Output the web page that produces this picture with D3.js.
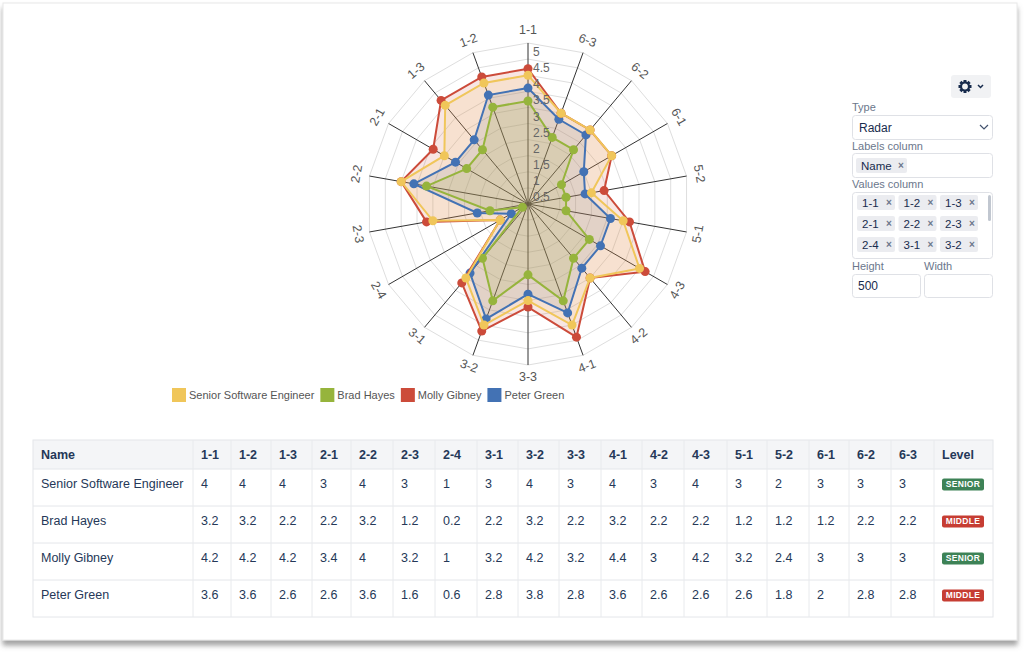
<!DOCTYPE html>
<html>
<head>
<meta charset="utf-8">
<script src="https://cdn.jsdelivr.net/npm/d3@7"></script>
<style>
  body { margin: 0; background: #fff; }
  svg text { font-family: "Liberation Sans", Arial, sans-serif; }
</style>
</head>
<body>
<svg id="chart" width="1024" height="655"></svg>
<script>
// chart data
var axes = ["1-1","1-2","1-3","2-1","2-2","2-3","2-4","3-1","3-2","3-3","4-1","4-2","4-3","5-1","5-2","6-1","6-2","6-3"];
var names = ["Senior Software Engineer", "Brad Hayes", "Molly Gibney", "Peter Green"];
var seniorVals = [4, 4, 4, 3, 4, 3, 1, 3, 4, 3, 4, 3, 4, 3, 2, 3, 3, 3];
var bradVals   = [3.2, 3.2, 2.2, 2.2, 3.2, 1.2, 0.2, 2.2, 3.2, 2.2, 3.2, 2.2, 2.2, 1.2, 1.2, 1.2, 2.2, 2.2];
var mollyVals  = [4.2, 4.2, 4.2, 3.4, 4, 3.2, 1, 3.2, 4.2, 3.2, 4.4, 3, 4.2, 3.2, 2.4, 3, 3, 3];
var peterVals  = [3.6, 3.6, 2.6, 2.6, 3.6, 1.6, 0.6, 2.8, 3.8, 2.8, 3.6, 2.6, 2.6, 2.6, 1.8, 2, 2.8, 2.8];
var levels = ["SENIOR", "MIDDLE", "SENIOR", "MIDDLE"];
var ticks = [0.5, 1, 1.5, 2, 2.5, 3, 3.5, 4, 4.5, 5];
var colors = ["#f0c65a", "#96b43c", "#cc4b3a", "#4372b4"];

var allVals = [seniorVals, bradVals, mollyVals, peterVals];

var svg = d3.select("#chart");

// card + shadow
var defs = svg.append("defs");
var f = defs.append("filter").attr("id", "shadow").attr("x", "-5%").attr("y", "-5%").attr("width", "110%").attr("height", "115%");
f.append("feDropShadow").attr("dx", 0).attr("dy", 5).attr("stdDeviation", 2.5)
  .attr("flood-color", "#666").attr("flood-opacity", 0.6);

svg.append("rect")
  .attr("x", 3).attr("y", 3).attr("width", 1014).attr("height", 637)
  .attr("fill", "#fff").attr("stroke", "#e8e8e8")
  .attr("filter", "url(#shadow)");

// ---------- radar ----------
var cx = 528, cy = 204, R = 161;
var r = d3.scaleLinear().domain([0, 5]).range([0, R]);
var step = 360 / axes.length;

function ang(i) { return (-i * step) * Math.PI / 180; }
function px(i, v) { return cx + r(v) * Math.sin(ang(i)); }
function py(i, v) { return cy - r(v) * Math.cos(ang(i)); }

var radar = svg.append("g");

// grid polygons
radar.selectAll(".ring").data(ticks).enter().append("polygon")
  .attr("points", function(t){
    return axes.map(function(a, i){ return px(i, t) + "," + py(i, t); }).join(" ");
  })
  .attr("fill", "none").attr("stroke", "#dedede").attr("stroke-width", 1);

// spokes
radar.selectAll(".spoke").data(axes).enter().append("line")
  .attr("x1", cx).attr("y1", cy)
  .attr("x2", function(d, i){ return px(i, 5); })
  .attr("y2", function(d, i){ return py(i, 5); })
  .attr("stroke", "#333").attr("stroke-width", 1);

var line = d3.line()
  .x(function(d, i){ return px(i, d); })
  .y(function(d, i){ return py(i, d); })
  .curve(d3.curveLinearClosed);

// fills go under every line, first series ends on top
var order = [3, 2, 1, 0];
order.forEach(function(s){
  radar.append("path").attr("d", line(allVals[s]))
    .attr("fill", colors[s]).attr("fill-opacity", 0.14).attr("stroke", "none");
});
order.forEach(function(s){
  var vals = allVals[s];
  var g = radar.append("g");
  g.append("path").attr("d", line(vals))
    .attr("fill", "none")
    .attr("stroke", colors[s]).attr("stroke-width", 2);
  g.selectAll("circle").data(vals).enter().append("circle")
    .attr("cx", function(d, i){ return px(i, d); })
    .attr("cy", function(d, i){ return py(i, d); })
    .attr("r", 4.5)
    .attr("fill", colors[s]);
});

// tick labels
radar.selectAll(".tick").data(ticks).enter().append("text")
  .attr("x", cx + 5).attr("y", function(t){ return cy - r(t) + 10; })
  .attr("dominant-baseline", "middle")
  .attr("font-size", 12).attr("fill", "#666")
  .text(function(t){ return t; });

// point labels, rotated along the ring
radar.selectAll(".plabel").data(axes).enter().append("text")
  .attr("transform", function(d, i){
    var deg = ((-i * step) % 360 + 360) % 360;
    var rot = (deg > 90 && deg < 270) ? deg - 180 : deg;
    return "translate(" + px(i, 5.38) + "," + py(i, 5.38) + ") rotate(" + rot + ")";
  })
  .attr("text-anchor", "middle").attr("dominant-baseline", "middle")
  .attr("font-size", 12.5).attr("fill", "#555")
  .text(function(d){ return d; });

// legend
var lg = svg.append("g");
var lx = 172;
names.forEach(function(n, i){
  lg.append("rect").attr("x", lx).attr("y", 388).attr("width", 14).attr("height", 14)
    .attr("fill", colors[i]);
  var t = lg.append("text").attr("x", lx + 17).attr("y", 399)
    .attr("font-size", 11).attr("fill", "#555").text(n);
  lx += 17 + t.node().getComputedTextLength() + 6;
});

// ---------- table ----------
var colEdges = [33, 193, 231, 271, 312, 351, 393, 435, 477, 518, 559, 601, 642, 684, 727, 767, 809, 849, 891, 934, 993];
var headers = ["Name"].concat(axes).concat(["Level"]);
var headTop = 440, headH = 29, rowH = 37;
var tbl = svg.append("g");

tbl.append("rect").attr("x", 33).attr("y", headTop).attr("width", 960).attr("height", headH)
  .attr("fill", "#f4f5f7");
tbl.append("rect").attr("x", 33).attr("y", headTop).attr("width", 960).attr("height", headH + rowH * names.length)
  .attr("fill", "none").attr("stroke", "#e4e6ea");
names.forEach(function(n, i){
  var y = headTop + headH + rowH * i;
  tbl.append("line").attr("x1", 33).attr("x2", 993).attr("y1", y).attr("y2", y)
    .attr("stroke", "#e4e6ea");
});
colEdges.slice(1, -1).forEach(function(x){
  tbl.append("line").attr("x1", x).attr("x2", x).attr("y1", headTop).attr("y2", headTop + headH + rowH * names.length)
    .attr("stroke", "#e8eaed");
});

headers.forEach(function(h, j){
  tbl.append("text").attr("x", colEdges[j] + 8).attr("y", headTop + headH / 2 + 1)
    .attr("dominant-baseline", "middle")
    .attr("font-size", 12.5).attr("font-weight", "bold").attr("fill", "#253858")
    .text(h);
});

names.forEach(function(n, i){
  var yc = headTop + headH + rowH * i + rowH / 2 - 3;
  var cells = [n].concat(allVals[i]);
  cells.forEach(function(c, j){
    tbl.append("text").attr("x", colEdges[j] + 8).attr("y", yc)
      .attr("dominant-baseline", "middle")
      .attr("font-size", 12.5).attr("fill", "#253858")
      .text(c);
  });
  var lv = levels[i];
  tbl.append("rect").attr("x", 942).attr("y", yc - 6).attr("width", 42).attr("height", 12).attr("rx", 2)
    .attr("fill", lv == "SENIOR" ? "#3d8256" : "#c63d33");
  tbl.append("text").attr("x", 963).attr("y", yc + 0.5)
    .attr("text-anchor", "middle").attr("dominant-baseline", "middle")
    .attr("font-size", 8.5).attr("font-weight", "bold").attr("fill", "#fff").attr("letter-spacing", 0.3)
    .text(lv);
});

// ---------- settings panel ----------
var p = svg.append("g");
var labelC = "#6b778c", textC = "#172b4d", borderC = "#dfe1e6";

// gear button
p.append("rect").attr("x", 951).attr("y", 75).attr("width", 40).attr("height", 23).attr("rx", 3).attr("fill", "#f1f2f4");
var gear = p.append("g").attr("transform", "translate(965,86.5)");
d3.range(8).forEach(function(k){
  gear.append("rect").attr("x", -1.5).attr("y", -6.5).attr("width", 3).attr("height", 3)
    .attr("fill", textC).attr("transform", "rotate(" + k * 45 + ")");
});
gear.append("circle").attr("r", 4).attr("fill", "none").attr("stroke", textC).attr("stroke-width", 2.2);
p.append("path").attr("d", "M978,85 l2.5,2.5 l2.5,-2.5").attr("fill", "none").attr("stroke", textC).attr("stroke-width", 1.5);

function fieldLabel(x, y, t){
  p.append("text").attr("x", x).attr("y", y).attr("font-size", 11).attr("fill", labelC).text(t);
}
function box(x, y, w, h){
  p.append("rect").attr("x", x + 0.5).attr("y", y + 0.5).attr("width", w).attr("height", h).attr("rx", 3)
    .attr("fill", "#fff").attr("stroke", borderC);
}
function tag(g, x, y, w, t){
  g.append("rect").attr("x", x).attr("y", y).attr("width", w).attr("height", 15).attr("rx", 2).attr("fill", "#ebecf0");
  if (t === null) return;
  g.append("text").attr("x", x + 5).attr("y", y + 11.5).attr("font-size", 11.5).attr("fill", textC).text(t);
  g.append("text").attr("x", x + w - 9).attr("y", y + 11).attr("font-size", 10).attr("font-weight", "bold").attr("fill", "#6b778c").text("×");
}

fieldLabel(852, 111, "Type");
box(852, 115, 140, 24);
p.append("text").attr("x", 859).attr("y", 131.5).attr("font-size", 12).attr("fill", textC).text("Radar");
p.append("path").attr("d", "M980,125 l4,4 l4,-4").attr("fill", "none").attr("stroke", "#42526e").attr("stroke-width", 1.2);

fieldLabel(852, 150, "Labels column");
box(852, 153, 140, 24);
tag(p, 856, 158, 51, "Name");

fieldLabel(852, 188, "Values column");
box(852, 192, 140, 66);
defs.append("clipPath").attr("id", "valclip").append("rect").attr("x", 853).attr("y", 193).attr("width", 138).attr("height", 64);
var vg = p.append("g").attr("clip-path", "url(#valclip)");
axes.slice(0, 12).forEach(function(a, i){
  var row = Math.floor(i / 3), col = i % 3;
  // the fourth row is scrolled out of view, only its top edge shows
  tag(vg, 857 + col * 41.5, 195 + row * 21, 38, row < 3 ? a : null);
});
p.append("rect").attr("x", 988).attr("y", 195).attr("width", 3).attr("height", 26).attr("rx", 1.5).attr("fill", "#c1c7d0");

fieldLabel(852, 270, "Height");
fieldLabel(924, 270, "Width");
box(852, 274, 68, 23);
box(924, 274, 68, 23);
p.append("text").attr("x", 858).attr("y", 290).attr("font-size", 12).attr("fill", textC).text("500");
</script>
</body>
</html>
